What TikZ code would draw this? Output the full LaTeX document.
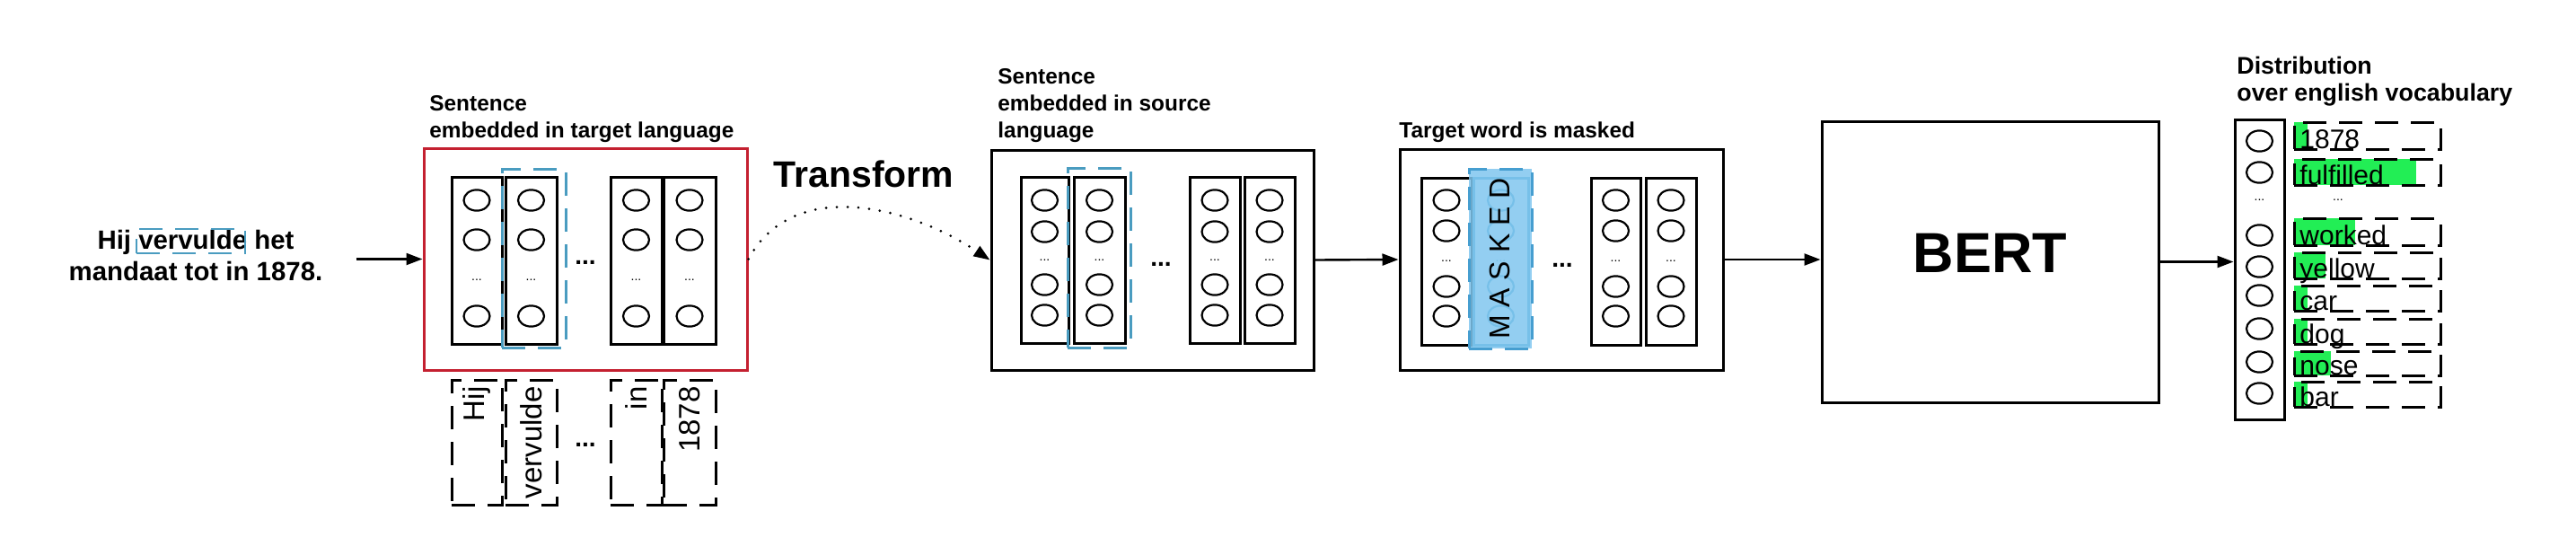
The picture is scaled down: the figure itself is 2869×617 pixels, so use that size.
\documentclass[tikz,border=0pt]{standalone}
\usepackage{fontspec}
\setmainfont{Liberation Sans}
\usetikzlibrary{arrows.meta}
\usetikzlibrary{calc}
\usetikzlibrary{fit}
\usetikzlibrary{shapes.geometric}
\definecolor{targetred}{RGB}{196,32,48}
\definecolor{pickblue}{RGB}{74,156,192}
\definecolor{maskfill}{RGB}{128,198,238}
\definecolor{maskedge}{RGB}{70,158,208}
\definecolor{vocabgreen}{RGB}{34,238,85}
\tikzset{
  every node/.style = {font = \fontsize{12}{15}\selectfont}
}
\tikzset{
    >={Triangle[length=9pt,width=6.5pt]}
}
\tikzset{
  space box/.style = {draw, line width=1.5pt, inner sep=0pt},
  vector box/.style = {draw, line width=1.5pt, inner sep=0pt},
  unit/.style = {draw, ellipse, line width=1.1pt, minimum width=14.5pt,
    minimum height=11.6pt, inner sep=0pt},
  small dots/.style = {font=\fontsize{7}{8}\selectfont, inner sep=0pt},
  big dots/.style = {font=\fontsize{14}{16}\selectfont\bfseries, inner sep=0pt},
  pick box/.style = {draw=pickblue, line width=1.5pt,
    dash pattern=on 13pt off 7pt, inner sep=0pt},
  word box/.style = {draw, line width=1.5pt, dash pattern=on 13pt off 7pt,
    inner sep=0pt},
  title/.style = {font=\fontsize{12.2}{15}\selectfont\bfseries, align=left,
    inner sep=0pt},
  connector/.style = {->, line width=1.2pt}
}
% one embedding vector: name, left/right x, top/bottom y, unit ys, dots y
\newcommand{\embcol}[7]{
  \node[vector box, fit={(#2,#4) (#3,#5)}] (#1) {};
  \foreach \cy [count=\i] in {#6}
    \node[unit] (#1-\i) at ({(#2+#3)/2},\cy) {};
  \node[small dots] (#1-dots) at ({(#2+#3)/2},#7) {...};
}

\begin{document}
\begin{tikzpicture}[x=0.5pt, y=-0.5pt]
  \useasboundingbox (0,0) rectangle (2869,617);

  % input sentence
  \node[font=\fontsize{14.7}{17.5}\selectfont\bfseries, align=center,
    inner sep=0pt] (sentence) at (218,284) {Hij vervulde het\\mandaat tot in 1878.};
  \node[pick box, line width=1pt, minimum width=60.5pt,
    minimum height=13.5pt] (pick) at (212.5,268.5) {};

  % sentence in target language
  \node[space box, draw=targetred, fit={(472,165) (832,412)}] (target) {};
  \node[title, anchor=base west] (target-title) at (478,153)
    {Sentence\\embedded in target language};
  \embcol{t1}{503}{559}{197}{383}{223,267,352}{312}
  \embcol{t2}{563}{620}{197}{383}{223,267,352}{312}
  \embcol{t3}{680}{737}{197}{383}{223,267,352}{312}
  \embcol{t4}{739}{797}{197}{383}{223,267,352}{312}
  \node[big dots] (t-dots) at (652,292) {...};
  \node[pick box, fit={(559,188) (630,387)}] (t-pick) {};

  \foreach \xl/\xr/\word [count=\i] in
      {503/559/Hij, 563/620/vervulde, 680/737/in, 739/797/1878} {
    \node[word box, fit={(\xl,423) (\xr,562)}] (w\i) {};
    \node[rotate=90, anchor=east, font=\fontsize{16.5}{18}\selectfont]
      (w\i-text) at ([yshift=-1pt]w\i.north) {\word};
  }
  \node[big dots] (w-dots) at (652,495) {...};

  % transform
  \node[font=\fontsize{20.5}{24}\selectfont\bfseries, anchor=base]
    (transform) at (962,208) {Transform};

  % sentence in source language
  \node[space box, fit={(1104,167) (1463,412)}] (source) {};
  \node[title, anchor=base west] (source-title) at (1111,153)
    {Sentence\\embedded in source\\language};
  \embcol{s1}{1137}{1190}{197}{382}{223,258,317,351}{290}
  \embcol{s2}{1196}{1253}{197}{382}{223,258,317,351}{290}
  \embcol{s3}{1325}{1381}{197}{382}{223,258,317,351}{290}
  \embcol{s4}{1386}{1442}{197}{382}{223,258,317,351}{290}
  \node[big dots] (s-dots) at (1293,294) {...};
  \node[pick box, fit={(1189,187) (1259,387)}] (s-pick) {};

  \draw[->, line width=1.5pt, dash pattern=on 0pt off 6pt, line cap=round]
    (target.east) .. controls +(50,-92) and +(-90,-60) .. (source.west);

  % masked target word
  \node[space box, fit={(1559,166) (1919,412)}] (masked) {};
  \node[title, anchor=base west] (masked-title) at (1558,153)
    {Target word is masked};
  \embcol{m1}{1583}{1639}{198}{384}{223,257,319,352}{291}
  \begin{scope}[color=maskedge]
    \embcol{m2}{1641}{1702}{198}{384}{223,257,319,352}{291}
  \end{scope}
  \embcol{m3}{1772}{1827}{198}{384}{223,257,319,352}{291}
  \embcol{m4}{1833}{1889}{198}{384}{223,257,319,352}{291}
  \node[big dots] (m-dots) at (1740,295) {...};
  \node[fill=maskfill, fill opacity=0.85, draw=maskedge, line width=1.5pt,
    dash pattern=on 13pt off 7pt, inner sep=0pt,
    fit={(1636,188) (1706,388)}] (mask) {};
  \node[rotate=90, font=\fontsize{16}{18}\selectfont] (mask-text)
    at (1670,288) {M A S K E D};

  % BERT
  \node[space box, minimum width=187.5pt, minimum height=156.5pt,
    text depth=10pt, font=\fontsize{31.5}{36}\selectfont\bfseries]
    (bert) at (2216.5,291.5) {BERT};

  % distribution over vocabulary
  \node[title, font=\fontsize{13.4}{15}\selectfont\bfseries, anchor=base west]
    (dist-title) at (2491,112) {Distribution\\over english vocabulary};
  \embcol{dist}{2489}{2544}{133}{467}{157,192,262,297,329,366,403,438}{223}
  \foreach \yt/\yb/\gx/\word [count=\i] in
      {136/166/2570/1878, 177/206/2691/fulfilled, 243/273/2623/worked,
       281/310/2590/yellow, 318/346/2570/car, 355/383/2570/dog,
       391/418/2596/nose, 425/453/2570/bar} {
    \fill[vocabgreen] (2555,\yt) rectangle (\gx,\yb);
    \node[word box, fit={(2555,\yt) (2718,\yb)}] (bar\i) {};
    \node[anchor=base west, inner sep=0pt, font=\fontsize{15}{17}\selectfont]
      (bar\i-text) at (2561,\yb-1) {\word};
  }
  \node[small dots] (bar-dots) at (2604,223) {...};

  % connectors
  \draw[connector, shorten <=18.5pt] (target.west -| sentence.east) -- (target.west);
  \draw[connector] (source.east) -- (masked.west);
  \draw[connector] (masked.east) -- (masked.east -| bert.west);
  \draw[connector] (bert.east) -- (bert.east -| dist.west);
\end{tikzpicture}
\end{document}
